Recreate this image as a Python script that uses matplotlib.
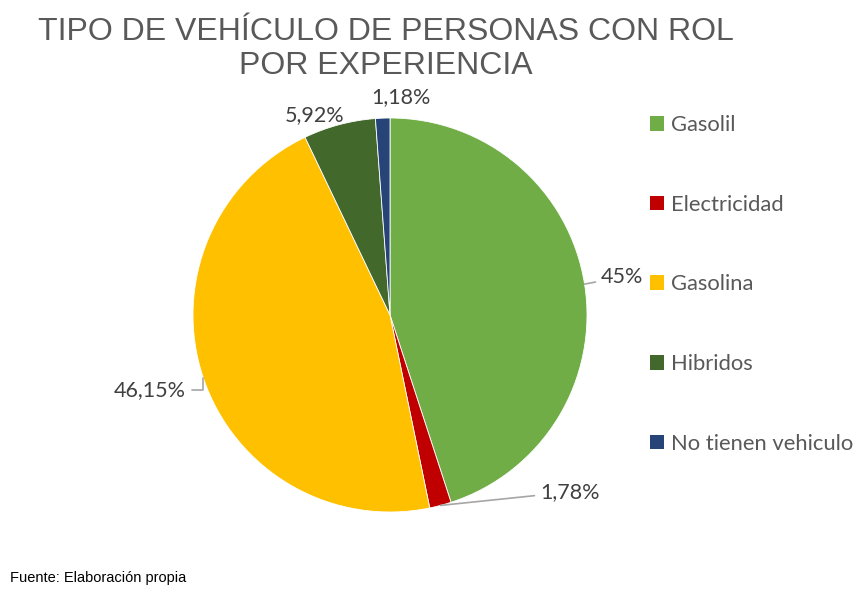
import numpy as np
import matplotlib
matplotlib.use("Agg")
import matplotlib.pyplot as plt
from matplotlib.patches import Patch

# Data
categories = ['Gasolil', 'Electricidad', 'Gasolina', 'Hibridos', 'No tienen vehiculo']
values = [45, 1.78, 46.15, 5.92, 1.18]
labels = ['45%', '1,78%', '46,15%', '5,92%', '1,18%']
colors = ['#70AD47', '#C00000', '#FFC000', '#43682B', '#264478']

W, H = 856, 589
fig = plt.figure(figsize=(W / 100, H / 100), dpi=100)

# Pie axes (center ~ (390,315) px, radius ~197 px)
ax = fig.add_axes([(390 - 197) / W, (H - 315 - 197) / H, 394 / W, 394 / H])
wedges, _ = ax.pie(values, colors=colors, startangle=90, counterclock=False,
                   radius=1, wedgeprops=dict(edgecolor='white', linewidth=0.6))
ax.set_xlim(-1, 1)
ax.set_ylim(-1, 1)
ax.set_aspect('equal')
ax.axis('off')

label_font = dict(family=['Lato', 'DejaVu Sans'], fontsize=15.5, color='#404040')

# label text positions (figure pixels, from top-left) and whether a leader line is drawn
text_pos = [(601, 277, 'left'), (540, 492, 'left'), (186, 390, 'right'),
            (344, 115, 'right'), (371, 97, 'left')]
leader = [True, True, True, False, False]

for w, lab, (px, py, ha), ld in zip(wedges, labels, text_pos, leader):
    mid = np.deg2rad((w.theta1 + w.theta2) / 2)
    xy = (np.cos(mid), np.sin(mid))
    if ld:
        ax.annotate(lab, xy=xy, xycoords='data', xytext=(px, H - py),
                    textcoords='figure pixels', ha=ha, va='center', **label_font,
                    arrowprops=dict(arrowstyle='-', color='#A6A6A6', lw=1.2,
                                    shrinkA=2, shrinkB=0,
                                    connectionstyle='angle,angleA=0,angleB=90,rad=0' if ha == 'right' else 'arc3,rad=0'))
    else:
        fig.text(px / W, 1 - py / H, lab, ha=ha, va='center', **label_font)

# Title
fig.text(386 / W, 1 - 49 / H, 'TIPO DE VEHÍCULO DE PERSONAS CON ROL\nPOR EXPERIENCIA',
         ha='center', va='center', fontsize=23, color='#595959',
         family=['Liberation Sans', 'DejaVu Sans'], linespacing=1.18)

# Legend
handles = [Patch(facecolor=c, edgecolor='none') for c in colors]
fig.legend(handles, categories, loc='upper left',
           bbox_to_anchor=(650 / W, 1 - 115 / H), bbox_transform=fig.transFigure,
           frameon=False, handlelength=0.65, handleheight=0.65, handletextpad=0.3,
           labelspacing=2.72, borderpad=0, borderaxespad=0,
           prop=dict(family=['Lato', 'DejaVu Sans'], size=15.8), labelcolor='#595959')

# Source
fig.text(10 / W, 1 - 578 / H, 'Fuente: Elaboración propia', ha='left', va='center',
         fontsize=10.5, color='black', family=['Liberation Sans', 'DejaVu Sans'])

fig.savefig('out.png', dpi=100)
